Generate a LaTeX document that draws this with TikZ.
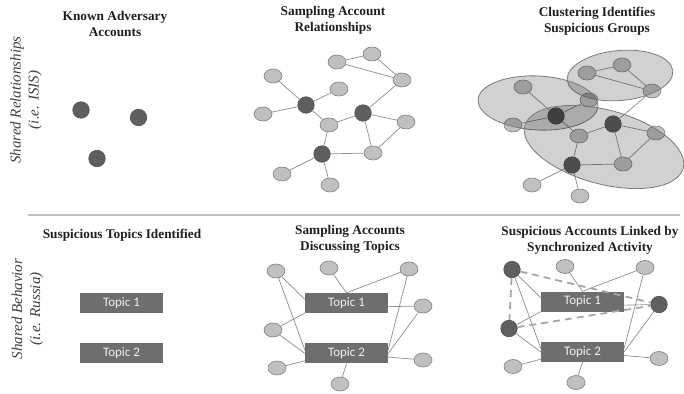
\documentclass[tikz,border=0pt]{standalone}
\usepackage{fontspec}
\setmainfont{Liberation Serif}
\newfontfamily\topicfont{Carlito}
\usepackage{tikz}
\usetikzlibrary{positioning, shapes.geometric}

\definecolor{acctfill}{HTML}{C0C0C0}
\definecolor{acctline}{HTML}{7F7F7F}
\definecolor{suspfill}{HTML}{5F5F5F}
\definecolor{suspline}{HTML}{505050}
\definecolor{topicfill}{HTML}{6E6E6E}
\definecolor{edgegray}{HTML}{8C8C8C}
\definecolor{syncgray}{HTML}{A6A6A6}
\definecolor{ringgray}{HTML}{7A7A7A}
\definecolor{sepgray}{HTML}{BFBFBF}
\definecolor{titlegray}{HTML}{1F1F1F}
\definecolor{rowgray}{HTML}{3F3F3F}

\begin{document}
\begin{tikzpicture}[
    x=1pt, y=-1pt,
    % Accounts
    acct/.style={
        ellipse, draw=acctline, fill=acctfill, line width=0.6pt,
        minimum width=18pt, minimum height=14pt, inner sep=0pt
    },
    susp/.style={
        circle, draw=suspline, fill=suspfill, line width=0.6pt,
        minimum size=16.5pt, inner sep=0pt
    },
    topic/.style={
        rectangle, fill=topicfill, text=white!95!black,
        minimum width=83pt, minimum height=20pt, inner sep=0pt,
        font=\topicfont\fontsize{13}{15}\selectfont
    },
    % Lines
    link/.style={draw=edgegray, line width=0.7pt},
    sync/.style={draw=syncgray, line width=1.8pt, dash pattern=on 7pt off 5pt},
    cluster/.style={draw=ringgray, line width=0.8pt, fill=black, fill opacity=0.18},
    sep_line/.style={draw=sepgray, line width=1.5pt},
    % Labels
    title_text/.style={font=\fontsize{13.3}{16}\selectfont\bfseries, align=center, text=titlegray},
    row_text/.style={font=\fontsize{15}{18}\selectfont\itshape, align=center, text=rowgray, rotate=90}
]
    \useasboundingbox (0,0) rectangle (684,393);

    % --- ROW LABELS ---
    \node[row_text] (row-top) at (26,100) {Shared Relationships\\(i.e. ISIS)};
    \node[row_text] (row-bot) at (27.5,309) {Shared Behavior\\(i.e. Russia)};

    \coordinate (sep-l) at (28,215);
    \coordinate (sep-r) at (680,215);
    \draw[sep_line] (sep-l) -- (sep-r);

    % --- TITLES ---
    \node[title_text] (t-known) at (115,24) {Known Adversary\\Accounts};
    \node[title_text] (t-sample) at (333,20.5) {Sampling Account\\Relationships};
    \node[title_text] (t-cluster) at (597,21) {Clustering Identifies\\Suspicious Groups};
    \node[title_text] (t-topics) at (122,235) {Suspicious Topics Identified};
    \node[title_text] (t-discuss) at (350,239) {Sampling Accounts\\Discussing Topics};
    \node[title_text] (t-linked) at (590,240) {Suspicious Accounts Linked by\\Synchronized Activity};

    % --- KNOWN ADVERSARIES ---
    \foreach \n/\x/\y in {1/81/110, 2/138.5/117.5, 3/97/158.5} {
        \node[susp] (K-\n) at (\x,\y) {};
    }

    % --- RELATIONSHIP GRAPHS (sampled, clustered) ---
    \foreach \p/\dx/\dy in {G/0/0, C/250/11} {
        \begin{scope}[shift={(\dx,\dy)}]
            \foreach \n/\x/\y in {a/337/62, b/372/54, c/402/80, d/273/76, e/339/89,
                    f/263/114, g/329/125, h/406/122, i/373/153, j/282/174, k/330/185} {
                \node[acct] (\p-\n) at (\x,\y) {};
            }
            \foreach \n/\x/\y in {1/306/105, 2/363/113, 3/322/154} {
                \node[susp] (\p-\n) at (\x,\y) {};
            }
        \end{scope}
        \foreach \u/\v in {a/b, a/c, b/c, c/2, d/1, f/1, e/1, 1/g, g/2, g/3,
                2/h, 2/i, h/i, 3/i, 3/j, 3/k} {
            \draw[link] (\p-\u) -- (\p-\v);
        }
    }

    % --- CLUSTERS ---
    \draw[cluster, rotate around={5:(620,75.5)}] (620,75.5) ellipse [x radius=53, y radius=25];
    \draw[cluster, rotate around={-3:(538,103)}] (538,103) ellipse [x radius=60, y radius=27];
    \draw[cluster, rotate around={-15:(604,147)}] (604,147) ellipse [x radius=82, y radius=37];

    % --- TOPICS ---
    \node[topic] (K-T1) at (121.5,303) {Topic 1};
    \node[topic, below=30pt of K-T1] (K-T2) {Topic 2};

    \foreach \p/\dx/\dy/\hot in {S/0/0/acct, L/236/-1.5/susp} {
        \begin{scope}[shift={(\dx,\dy)}]
            \node[topic] (\p-T1) at (346.5,303) {Topic 1};
            \node[topic, below=30pt of \p-T1] (\p-T2) {Topic 2};
            \foreach \n/\x/\y/\s in {1/276/271/\hot, 2/329/268/acct, 3/409/269/acct,
                    4/423/306/\hot, 5/273/330/\hot, 6/423/360/acct, 7/277/368/acct, 8/340/384/acct} {
                \node[\s] (\p-\n) at (\x,\y) {};
            }
        \end{scope}
        \foreach \u/\v in {1/T1.175, 1/T2.175, 2/T1.north, 3/T1.north, 3/T2.5,
                4/T1.355, 4/T2.east, 5/T1.south west, 5/T2.west, 6/T2.355,
                7/T2.190, 8/T2.south} {
            \draw[link] (\p-\u) -- (\p-\v);
        }
    }

    % synchronized activity
    \draw[sync] (L-1) -- (L-5);
    \draw[sync] (L-1) -- (L-4);
    \draw[sync] (L-5) -- (L-4);

\end{tikzpicture}
\end{document}
